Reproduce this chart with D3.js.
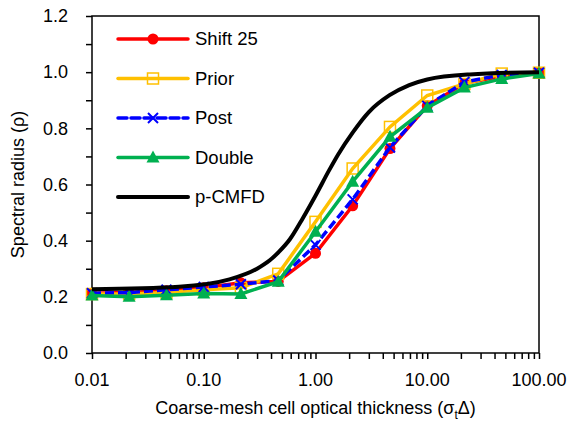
<!DOCTYPE html>
<html>
<head>
<meta charset="utf-8">
<script src="https://cdn.jsdelivr.net/npm/d3@7"></script>
<style>
  body { margin: 0; background: #fff; }
  svg text { font-family: "Liberation Sans", Arial, sans-serif; fill: #000; }
</style>
</head>
<body>
<div id="chart"></div>
<script>
// thickness values (sigma_t * delta) at the markers
const thick = [0.01, 0.0215, 0.0464, 0.1, 0.215, 0.464, 1, 2.15, 4.64, 10, 21.5, 46.4, 100];

const shift25 = [0.213, 0.215, 0.222, 0.232, 0.250, 0.255, 0.355, 0.524, 0.728, 0.880, 0.960, 0.985, 0.997];
const prior   = [0.210, 0.210, 0.215, 0.225, 0.232, 0.282, 0.467, 0.657, 0.805, 0.917, 0.958, 0.995, 0.998];
const post    = [0.213, 0.215, 0.225, 0.235, 0.245, 0.258, 0.385, 0.547, 0.732, 0.880, 0.965, 0.990, 0.998];
const dbl     = [0.205, 0.200, 0.206, 0.212, 0.210, 0.254, 0.432, 0.610, 0.770, 0.873, 0.945, 0.976, 0.995];

// p-CMFD curve
const pcmfdX = [0.01, 0.06, 0.17, 0.3, 0.39, 0.47, 0.59, 0.77, 1.0, 1.33, 1.6, 2.15, 3.0, 4.6, 6.9, 10, 24, 100];
const pcmfdY = [0.227, 0.236, 0.262, 0.300, 0.330, 0.360, 0.405, 0.480, 0.560, 0.652, 0.708, 0.785, 0.858, 0.918, 0.954, 0.974, 0.992, 1.0];

const xTicks = [0.01, 0.1, 1, 10, 100];
const yTicks = [0, 0.2, 0.4, 0.6, 0.8, 1.0, 1.2];

const names = ["Shift 25", "Prior", "Post", "Double", "p-CMFD"];
const colors = ["#ff0000", "#ffc000", "#0000ff", "#00b050", "#000000"];

const W = 571, H = 421;
const margin = {top: 16, right: 32, bottom: 68, left: 92};
const iw = W - margin.left - margin.right;
const ih = H - margin.top - margin.bottom;

const svg = d3.select("#chart").append("svg")
  .attr("width", W).attr("height", H);

const g = svg.append("g")
  .attr("transform", `translate(${margin.left},${margin.top})`);

const x = d3.scaleLog().domain([0.01, 100]).range([0, iw]);
const y = d3.scaleLinear().domain([0, 1.2]).range([ih, 0]);

// axes
const minorX = [];
[0.01, 0.1, 1, 10].forEach(d => { for (let k = 1; k < 10; k++) minorX.push(d * k); });
minorX.push(100);

const xAxis = g.append("g")
  .attr("transform", `translate(0,${ih})`)
  .call(d3.axisBottom(x).tickValues(minorX).tickSize(6).tickFormat(""));
xAxis.select(".domain").remove();
xAxis.selectAll("line").attr("stroke-width", 1.5);

g.append("g")
  .attr("transform", `translate(0,${ih})`)
  .selectAll("text")
  .data(xTicks)
  .enter().append("text")
    .attr("x", d => x(d))
    .attr("y", 33)
    .attr("text-anchor", "middle")
    .style("font-size", "18px")
    .text(d => d.toFixed(2));

const yAxis = g.append("g")
  .call(d3.axisLeft(y).tickValues(d3.range(0, 13).map(i => i / 10)).tickSize(6).tickFormat(""));
yAxis.select(".domain").remove();
yAxis.selectAll("line").attr("stroke-width", 1.5);

g.append("g").selectAll("text")
  .data(yTicks)
  .enter().append("text")
    .attr("x", -24)
    .attr("y", d => y(d))
    .attr("dy", "0.35em")
    .attr("text-anchor", "end")
    .style("font-size", "18px")
    .text(d => d.toFixed(1));

// frame
g.append("rect")
  .attr("width", iw).attr("height", ih)
  .attr("fill", "none").attr("stroke", "#000").attr("stroke-width", 1.5);

// axis titles
svg.append("text")
  .attr("transform", `translate(24,${margin.top + ih / 2}) rotate(-90)`)
  .attr("text-anchor", "middle")
  .style("font-size", "18px")
  .text("Spectral radius (ρ)");

const xt = svg.append("text")
  .attr("x", margin.left + iw / 2)
  .attr("y", 414)
  .attr("text-anchor", "middle")
  .style("font-size", "18px");
xt.append("tspan").text("Coarse-mesh cell optical thickness (σ");
xt.append("tspan").attr("dy", 5).style("font-size", "12px").text("t");
xt.append("tspan").attr("dy", -5).text("Δ)");

// series
const line = d3.line().x(d => x(d[0])).y(d => y(d[1]));
const series = [shift25, prior, post, dbl];
const dash = [null, null, "9,4", null];

series.forEach((s, i) => {
  g.append("path")
    .datum(thick.map((t, j) => [t, s[j]]))
    .attr("d", line)
    .attr("fill", "none")
    .attr("stroke", colors[i])
    .attr("stroke-width", 3.5)
    .attr("stroke-dasharray", dash[i]);
  drawMarkers(g, i, thick.map((t, j) => [x(t), y(s[j])]));
});

g.append("path")
  .datum(pcmfdX.map((t, j) => [t, pcmfdY[j]]))
  .attr("d", line.curve(d3.curveMonotoneX))
  .attr("fill", "none")
  .attr("stroke", "#000")
  .attr("stroke-width", 4);

function drawMarkers(parent, i, pts) {
  const m = parent.append("g");
  pts.forEach(p => {
    if (i == 0) {
      m.append("circle").attr("cx", p[0]).attr("cy", p[1]).attr("r", 5.5).attr("fill", colors[0]);
    } else if (i == 1) {
      m.append("rect").attr("x", p[0] - 5.5).attr("y", p[1] - 5.5)
        .attr("width", 11).attr("height", 11)
        .attr("fill", "none").attr("stroke", colors[1]).attr("stroke-width", 1.5);
    } else if (i == 2) {
      m.append("path")
        .attr("d", `M${p[0]-5},${p[1]-5}L${p[0]+5},${p[1]+5}M${p[0]-5},${p[1]+5}L${p[0]+5},${p[1]-5}`)
        .attr("stroke", colors[2]).attr("stroke-width", 2);
    } else if (i == 3) {
      m.append("path")
        .attr("d", `M${p[0]},${p[1]-7}L${p[0]+6.5},${p[1]+5}L${p[0]-6.5},${p[1]+5}Z`)
        .attr("fill", colors[3]);
    }
  });
}

// legend
const leg = svg.append("g").attr("transform", "translate(118,39)");
names.forEach((n, i) => {
  const row = leg.append("g").attr("transform", `translate(0,${i * 39.5})`);
  row.append("line").attr("x1", 0).attr("x2", 70)
    .attr("stroke", colors[i]).attr("stroke-width", i == 4 ? 4 : 3.5)
    .attr("stroke-linecap", "round")
    .attr("stroke-dasharray", i == 2 ? "9,4" : null);
  if (i < 4) drawMarkers(row, i, [[35, 0]]);
  row.append("text").attr("x", 77).attr("y", 0).attr("dy", "0.35em")
    .style("font-size", "18.5px").text(n);
});
</script>
</body>
</html>
